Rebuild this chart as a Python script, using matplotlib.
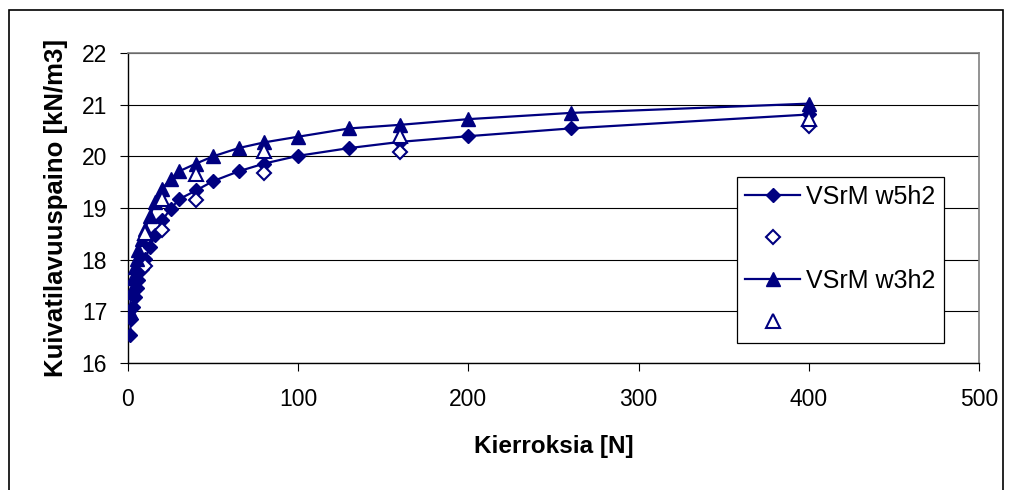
import matplotlib.pyplot as plt
from matplotlib.patches import Rectangle

# data
n_w5h2 = [1, 2, 3, 4, 5, 6, 8, 10, 13, 16, 20, 25, 30, 40, 50, 65, 80, 100, 130, 160, 200, 260, 400]
rho_w5h2 = [16.54, 16.86, 17.08, 17.28, 17.45, 17.60, 17.82, 18.02, 18.25, 18.48, 18.76, 18.98,
            19.17, 19.34, 19.52, 19.71, 19.86, 20.01, 20.16, 20.28, 20.39, 20.54, 20.81]
n_w5h2_open = [10, 20, 40, 80, 160, 400]
rho_w5h2_open = [17.87, 18.57, 19.16, 19.67, 20.08, 20.58]

n_w3h2 = [1, 2, 3, 4, 5, 6, 8, 10, 13, 16, 20, 25, 30, 40, 50, 65, 80, 100, 130, 160, 200, 260, 400]
rho_w3h2 = [17.00, 17.38, 17.65, 17.85, 18.02, 18.18, 18.40, 18.60, 18.85, 19.12, 19.37, 19.56,
            19.71, 19.86, 20.00, 20.16, 20.27, 20.38, 20.54, 20.61, 20.72, 20.84, 21.02]
n_w3h2_open = [10, 20, 40, 80, 160, 400]
rho_w3h2_open = [18.52, 19.18, 19.65, 20.10, 20.40, 20.72]

labels = ["VSrM w5h2", " ", "VSrM w3h2", " "]
navy = "#000080"

plt.rcParams["font.family"] = "Liberation Sans"

fig = plt.figure(figsize=(10.15, 4.9), dpi=100)
ax = fig.add_axes([128 / 1015, 1 - 363 / 490, (979 - 128) / 1015, (363 - 53) / 490])

# outer chart frame
fig.patches.append(Rectangle((9 / 1015, -0.1), (1003 - 9) / 1015, 1.1 - 10.5 / 490,
                             transform=fig.transFigure, fill=False,
                             edgecolor="black", linewidth=1.2))

h1, = ax.plot(n_w5h2, rho_w5h2, color=navy, lw=1.6, marker="D", ms=7.3,
              mfc=navy, mec=navy, zorder=3)
h2, = ax.plot(n_w5h2_open, rho_w5h2_open, ls="none", marker="D", ms=7.3,
              mfc="white", mec=navy, mew=1.5, zorder=4)
h3, = ax.plot(n_w3h2, rho_w3h2, color=navy, lw=1.6, marker="^", ms=10,
              mfc=navy, mec=navy, zorder=5)
h4, = ax.plot(n_w3h2_open, rho_w3h2_open, ls="none", marker="^", ms=10,
              mfc="white", mec=navy, mew=1.5, zorder=6)

ax.set_xlim(0, 500)
ax.set_ylim(16, 22)
ax.set_xticks(range(0, 501, 100))
ax.set_yticks(range(16, 23))
ax.yaxis.grid(True, color="black", lw=0.8)
ax.set_axisbelow(True)

for s in ["top", "right"]:
    ax.spines[s].set_color("#808080")
    ax.spines[s].set_linewidth(1.2)
for s in ["left", "bottom"]:
    ax.spines[s].set_color("black")
    ax.spines[s].set_linewidth(1.0)

ax.tick_params(direction="out", length=6, width=0.8, labelsize=16.5)
ax.tick_params(axis="x", pad=12)
ax.tick_params(axis="y", pad=9)

ax.set_xlabel("Kierroksia [N]", fontsize=17.5, fontweight="bold", labelpad=17)
ax.set_ylabel("Kuivatilavuuspaino [kN/m3]", fontsize=18.5, fontweight="bold", labelpad=10)

leg = ax.legend([h1, h2, h3, h4], labels, loc="upper left",
                bbox_to_anchor=(737 / 1015, 1 - 177 / 490), bbox_transform=fig.transFigure,
                fontsize=18, frameon=True, fancybox=False, framealpha=1,
                edgecolor="black", borderpad=0.33, labelspacing=0.72,
                handlelength=2.2, handletextpad=0.25, borderaxespad=0)
leg.get_frame().set_linewidth(0.9)

fig.savefig("out.png", dpi=100)
